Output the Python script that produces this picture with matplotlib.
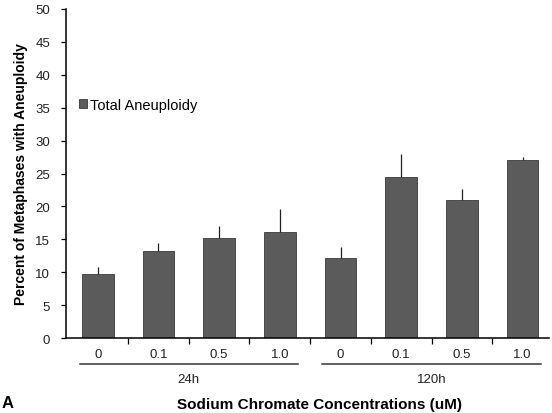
import numpy as np
import matplotlib.pyplot as plt

plt.rcParams['font.family'] = ['Liberation Sans', 'DejaVu Sans']

# mean % aneuploid metaphases and upper error (SD), 24h then 120h exposures
conc_labels = ['0', '0.1', '0.5', '1.0', '0', '0.1', '0.5', '1.0']
groups = ['24h', '120h']
means = [9.7, 13.2, 15.2, 16.1, 12.1, 24.5, 21.0, 27.0]
errs = [1.1, 1.2, 1.9, 3.5, 1.8, 3.5, 1.6, 0.5]

x = np.arange(len(means))

fig = plt.figure(figsize=(5.52, 4.14), dpi=100)
ax = fig.add_axes([0.12, 0.181, 0.875, 0.795])

ax.bar(x, means, width=0.52, color='#5b5b5b', edgecolor='#3a3a3a', linewidth=0.6,
       label='Total Aneuploidy')
ax.errorbar(x, means, yerr=[np.zeros(len(errs)), errs], fmt='none',
            ecolor='#222222', elinewidth=0.9, capsize=0)

ax.set_xlim(-0.52, 7.44)
ax.set_ylim(0, 50)
ax.set_yticks(np.arange(0, 51, 5))
ax.set_xticks(x)
ax.set_xticklabels(conc_labels)
ax.set_xticks(x[:-1] + 0.5, minor=True)
ax.tick_params(axis='x', which='major', length=0, pad=7, labelsize=9.5,
               labelcolor='#222222')
ax.tick_params(axis='x', which='minor', length=4, width=0.9, direction='out')
ax.tick_params(axis='y', length=3.5, width=0.9, labelsize=9.5, pad=8,
               labelcolor='#222222')

for s in ['top', 'right']:
    ax.spines[s].set_visible(False)
for s in ['left', 'bottom']:
    ax.spines[s].set_linewidth(1.1)

ax.set_ylabel('Percent of Metaphases with Aneuploidy', fontsize=10,
              fontweight='bold', labelpad=5)

# group underlines and labels
trans = ax.get_xaxis_transform()
for gi, g in enumerate(groups):
    lo, hi = gi * 4 - 0.3, gi * 4 + 3.3
    ax.plot([lo, hi], [-0.08, -0.08], transform=trans, color='#333333',
            linewidth=1.1, clip_on=False)
    ax.text((lo + hi) / 2, -0.105, g, transform=trans, ha='center', va='top',
            fontsize=9.5, color='#222222')

fig.text(0.578, 0.006, 'Sodium Chromate Concentrations (uM)', ha='center',
         va='bottom', fontsize=11, fontweight='bold')
fig.text(0.002, 0.008, 'A', ha='left', va='bottom', fontsize=12,
         fontweight='bold')

ax.legend(loc='upper left', bbox_to_anchor=(0.015, 0.748), frameon=False,
          fontsize=10.5, handlelength=0.55, handleheight=0.6, handletextpad=0.15,
          borderaxespad=0)

fig.savefig('out.png', dpi=100)
